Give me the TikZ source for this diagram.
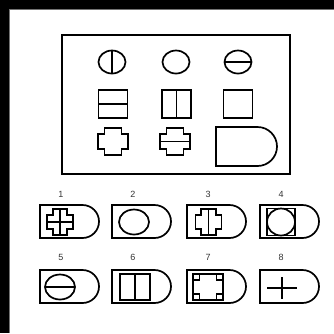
\documentclass[tikz,border=0pt]{standalone}
\usepackage{fontspec}
\setmainfont{Liberation Sans}
\usetikzlibrary{positioning}

% D-shaped card: left, top, width, height (pixel units, y downwards)
\newcommand{\Dcard}[4]{%
  \draw[figline] (#1,-#2) -- ++({#3-#4/2},0)
    arc[start angle=90, end angle=-90, radius={#4/2}]
    -- ++({-(#3-#4/2)},0) -- cycle;}
% cross outline: centre x, centre y, width, height
\newcommand{\Crossfig}[4]{%
  \draw[figline, shift={(#1,-#2)}, xscale=#3, yscale=#4]
    (-0.28,0.5) -- (0.28,0.5) -- (0.28,0.28) -- (0.5,0.28) -- (0.5,-0.28)
    -- (0.28,-0.28) -- (0.28,-0.5) -- (-0.28,-0.5) -- (-0.28,-0.28)
    -- (-0.5,-0.28) -- (-0.5,0.28) -- (-0.28,0.28) -- cycle;}
% rectangle by centre x, centre y, width, height
\newcommand{\Boxfig}[4]{%
  \draw[figline] ({#1-#3/2},{-#2+#4/2}) rectangle ({#1+#3/2},{-#2-#4/2});}

\begin{document}
\begin{tikzpicture}[
    x=1pt, y=1pt,
    every node/.style={font=\fontsize{9}{10}\selectfont, text=black!80},
    figline/.style={draw=black, line width=1.7pt, line join=miter},
    boxline/.style={draw=black, line width=2.6pt},
    frame/.style={fill=black},
]
\useasboundingbox (0,0) rectangle (334,-333);

% --- black frame on top and left edge ---
\fill[frame] (0,0) rectangle (334,-8.5);
\fill[frame] (0,0) rectangle (8.5,-333);
\draw[black!55, line width=1pt] (9,-333) -- (9,-9) -- (334,-9);

% --- question box ---
\draw[boxline] (62,-35) rectangle (290,-174);

% row 1: ellipses
\foreach \cx in {112,176,238}
  \draw[figline] (\cx,-62) ellipse[x radius=13.5, y radius=11.5];
\draw[figline] (112,-50.5) -- (112,-73.5);
\draw[figline] (224.5,-62) -- (251.5,-62);

% row 2: squares
\foreach \cx in {113,176.5,238}
  \Boxfig{\cx}{104}{29}{28}
\draw[figline] (98.5,-104) -- (127.5,-104);
\draw[figline] (176.5,-90) -- (176.5,-118);

% row 3: crosses and the empty card
\Crossfig{113}{141.5}{30}{27}
\Crossfig{175}{141.5}{30}{27}
\draw[figline] (160,-141.5) -- (190,-141.5);
\Dcard{216}{127}{61}{39}

% --- answer cards ---
\foreach \lx/\cx/\n in {40/61/1,112/133/2,187/208/3,260/281/4}{
  \Dcard{\lx}{205}{59}{33}
  \node (lab\n) at (\cx,-194) {\n};
}
\foreach \lx/\cx/\n in {40/61/5,112/133/6,187/208/7,260/281/8}{
  \Dcard{\lx}{270}{59}{33}
  \node (lab\n) at (\cx,-257) {\n};
}

% 1: cross with both dividers
\Crossfig{60}{222}{26}{26}
\draw[figline] (60,-209) -- (60,-235);
\draw[figline] (47,-222) -- (73,-222);
% 2: ellipse
\draw[figline] (134,-222) ellipse[x radius=15, y radius=12.5];
% 3: cross with vertical divider
\Crossfig{208.5}{222}{26}{26}
\draw[figline] (208.5,-209) -- (208.5,-235);
% 4: square with inscribed ellipse
\Boxfig{281}{222}{28}{27}
\draw[figline] (281,-222) ellipse[x radius=14, y radius=13.5];
% 5: ellipse with horizontal divider
\draw[figline] (60,-287) ellipse[x radius=15, y radius=12.5];
\draw[figline] (45,-287) -- (75,-287);
% 6: square with vertical divider
\Boxfig{135}{287}{30}{26}
\draw[figline] (135,-274) -- (135,-300);
% 7: square with corner notches
\Boxfig{208}{287}{30}{26}
\Crossfig{208}{287}{30}{26}
% 8: plus sign
\draw[figline] (267,-288) -- (297,-288);
\draw[figline] (282,-277) -- (282,-299);
\end{tikzpicture}
\end{document}
